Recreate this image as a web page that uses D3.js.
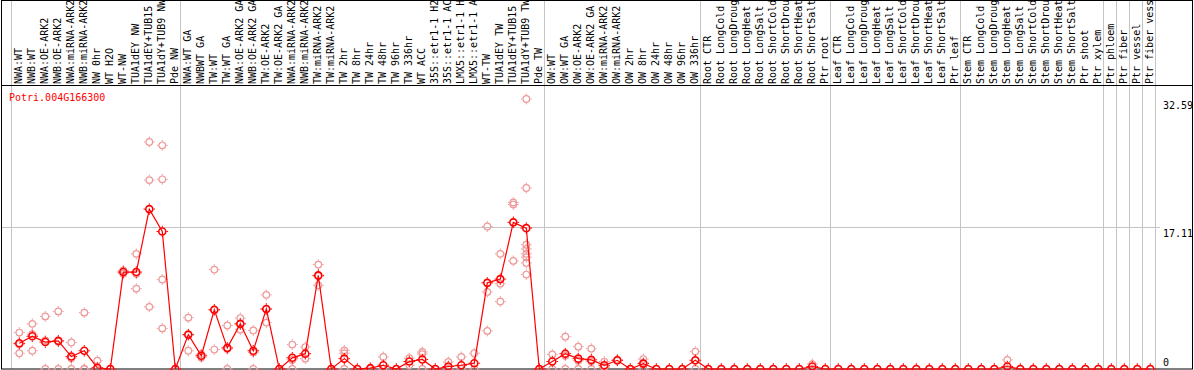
<!DOCTYPE html>
<html><head><meta charset="utf-8">
<script src="https://cdn.jsdelivr.net/npm/d3@7/dist/d3.min.js"></script>
<style>
body{margin:0;background:#fff}
svg{display:block}
text{font-family:"DejaVu Sans Mono","Liberation Mono",monospace;font-size:10px}
</style>
</head><body>
<svg id="c" width="1194" height="370"></svg>
<script>
const geneId = "Potri.004G166300";
const labels = [
"NWA:WT","NWB:WT","NWA:OE-ARK2","NWB:OE-ARK2","NWA:miRNA-ARK2","NWB:miRNA-ARK2","NW 0hr","WT H2O","WT-NW","TUA1dEY NW","TUA1dEY+TUB15","TUA1dY+TUB9 NW","Pde NW",
"NWA:WT GA","NWBWT GA","TW:WT","TW:WT GA","NWA:OE-ARK2 GA","NWB:OE-ARK2 GA","TW:OE-ARK2","TW:OE-ARK2 GA","NWA:miRNA-ARK2","NWB:miRNA-ARK2","TW:miRNA-ARK2","TW:miRNA-ARK2",
"TW 2hr","TW 8hr","TW 24hr","TW 48hr","TW 96hr","TW 336hr","WT ACC","35S::etr1-1 H2","35S::etr1-1 AC","LMX5::etr1-1 H","LMX5::etr1-1 A","WT-TW","TUA1dEY TW","TUA1dEY+TUB15","TUA1dY+TUB9 TW","Pde TW",
"OW:WT","OW:WT GA","OW:OE-ARK2","OW:OE-ARK2 GA","OW:miRNA-ARK2","OW:miRNA-ARK2","OW 2hr","OW 8hr","OW 24hr","OW 48hr","OW 96hr","OW 336hr",
"Root CTR","Root LongCold","Root LongDroug","Root LongHeat","Root LongSalt","Root ShortCold","Root ShortDrou","Root ShortHeat","Root ShortSalt","Ptr root",
"Leaf CTR","Leaf LongCold","Leaf LongDroug","Leaf LongHeat","Leaf LongSalt","Leaf ShortCold","Leaf ShortDrou","Leaf ShortHeat","Leaf ShortSalt","Ptr leaf",
"Stem CTR","Stem LongCold","Stem LongDroug","Stem LongHeat","Stem LongSalt","Stem ShortCold","Stem ShortDrou","Stem ShortHeat","Stem ShortSalt","Ptr shoot","Ptr xylem",
"Ptr phloem","Ptr fiber","Ptr vessel","Ptr fiber vess"
];
const means = [
3.1,3.95,3.25,3.4,1.5,2.2,0.15,0,11.7,11.7,19.3,16.6,0,
4.15,1.6,7.15,2.55,5.45,2.2,7.25,0,1.35,1.85,11.3,0,
1.25,0,0.1,0.45,0,0.9,1.15,0,0.3,0.45,0.7,10.4,10.85,17.7,17.0,0,
0.9,1.85,1.25,1.1,0.45,1.05,0,0.65,0,0,0,1.05,
0,0,0,0,0,0,0,0,0.3,0,
0,0,0,0,0,0,0,0,0,0,
0,0,0,0.3,0,0,0,0,0,0,0,
0,0,0,0
];
const replicates = [
[4.4,3.0,1.9],[5.45,2.2,4.2],[6.35,3.45,0],[6.95,3.3,0],[3.2,1.3,0],[6.8,0,0],[1.0,0],[0],[11.5,11.9],[13.9,9.7,11.5],[27.4,22.8,7.5],[27.0,22.9,10.8,4.9],[0],
[6.2,2.2,4.1],[1.4,1.8],[12.0,2.35,7.1],[5.25,0,2.4],[6.15,4.75,5.45],[4.65,0,2.0],[8.95,5.6,7.2],[0],[2.95,0,1.1],[2.65,1.25],[12.6,10.1,11.2],[0],
[2.25,1.9,0],[0],[0],[1.45,0],[0],[1.3,0.45],[2.05,1.8,0],[0],[0.85,0],[1.45,0],[1.9,0],[17.2,9.3,4.6],[13.9,10.3,8.15],[20.1,19.85,13.05],[32.59,21.85,15.0,14.5,13.9,13.5,12.8,11.4],[0],
[1.75,0],[3.9,0,1.6],[2.7,0,1.0],[2.45,0,0.9],[0.9,0.2,0.25],[1.1,1.0],[0],[1.2,0,0.75],[0],[0],[0],[2.1,0,1.0],
[0],[0],[0],[0],[0],[0],[0],[0],[0.6,0],[0],
[0],[0],[0],[0],[0],[0],[0],[0],[0],[0],
[0],[0],[0],[1.1,0],[0],[0],[0],[0],[0],[0],[0],
[0],[0],[0],[0]
];
const groupStarts = [0,13,41,53,63,73,84,85,86,87,88];
const yTicks = [0,17.11,32.59];

const W = 1194, H = 370;
const svg = d3.select("#c");
const x = d3.scaleLinear().domain([0, labels.length - 1]).range([19.3, 1150.3]);
const y = d3.scaleLinear().domain([0, 32.59]).range([369, 99]);
const px = v => Math.round(v) + 0.5;

// group separator lines
svg.append("g").selectAll("line").data(groupStarts).join("line")
  .attr("x1", g => px(x(g) - 8)).attr("x2", g => px(x(g) - 8))
  .attr("y1", 0).attr("y2", 369)
  .attr("stroke", "#c4c4c4").attr("stroke-width", 1);

// horizontal gridline (middle tick)
svg.append("g").selectAll("line").data(yTicks.filter(t => t > 0 && t < 32.59)).join("line")
  .attr("x1", 1).attr("x2", 1160)
  .attr("y1", t => px(y(t))).attr("y2", t => px(y(t)))
  .attr("stroke", "#c4c4c4").attr("stroke-width", 1);

// frame
svg.append("rect").attr("x", 1.5).attr("y", 0.5).attr("width", 1191).attr("height", 368.5)
  .attr("fill", "none").attr("stroke", "#000").attr("stroke-width", 1);
svg.append("line").attr("x1", 1).attr("x2", 1193).attr("y1", 85.5).attr("y2", 85.5)
  .attr("stroke", "#000");

// column labels
svg.append("g").selectAll("text").data(labels).join("text")
  .attr("transform", (d, i) => `translate(${x(i) + 2.5},84) rotate(-90)`)
  .attr("fill", "#000").text(d => d);

// y tick labels
svg.append("g").selectAll("text").data(yTicks).join("text")
  .attr("x", 1163)
  .attr("y", t => t === 0 ? y(t) - 3.5 : Math.min(y(t) + 10, 365))
  .attr("fill", "#000").text(t => String(t));

// title
svg.append("text").attr("x", 9).attr("y", 100.5).attr("fill", "#ff0000").text(geneId);

function marker(g, r, color, sw) {
  g.append("circle").attr("r", r).attr("fill", "none").attr("stroke", color).attr("stroke-width", sw);
  const t = [[0, -1], [0, 1], [-1, 0], [1, 0]];
  t.forEach(([dx, dy]) => {
    g.append("line")
      .attr("x1", dx * (r + sw / 2)).attr("y1", dy * (r + sw / 2))
      .attr("x2", dx * (r + sw / 2 + 1.5)).attr("y2", dy * (r + sw / 2 + 1.5))
      .attr("stroke", color).attr("stroke-width", 1);
  });
}

// replicate points
const repData = [];
replicates.forEach((arr, i) => arr.forEach(v => repData.push({i, v})));
svg.append("g").selectAll("g").data(repData).join("g")
  .attr("transform", d => `translate(${x(d.i)},${y(d.v)})`)
  .each(function () { marker(d3.select(this), 3.3, "#ee9a9a", 1.2); });

// mean line
svg.append("path").datum(means)
  .attr("d", d3.line().x((d, i) => x(i)).y(d => y(d)))
  .attr("fill", "none").attr("stroke", "#ff0000").attr("stroke-width", 1.2);

// mean points
svg.append("g").selectAll("g").data(means).join("g")
  .attr("transform", (d, i) => `translate(${x(i)},${y(d)})`)
  .each(function () { marker(d3.select(this), 3.5, "#ff0000", 1.6); });
</script>
</body></html>
